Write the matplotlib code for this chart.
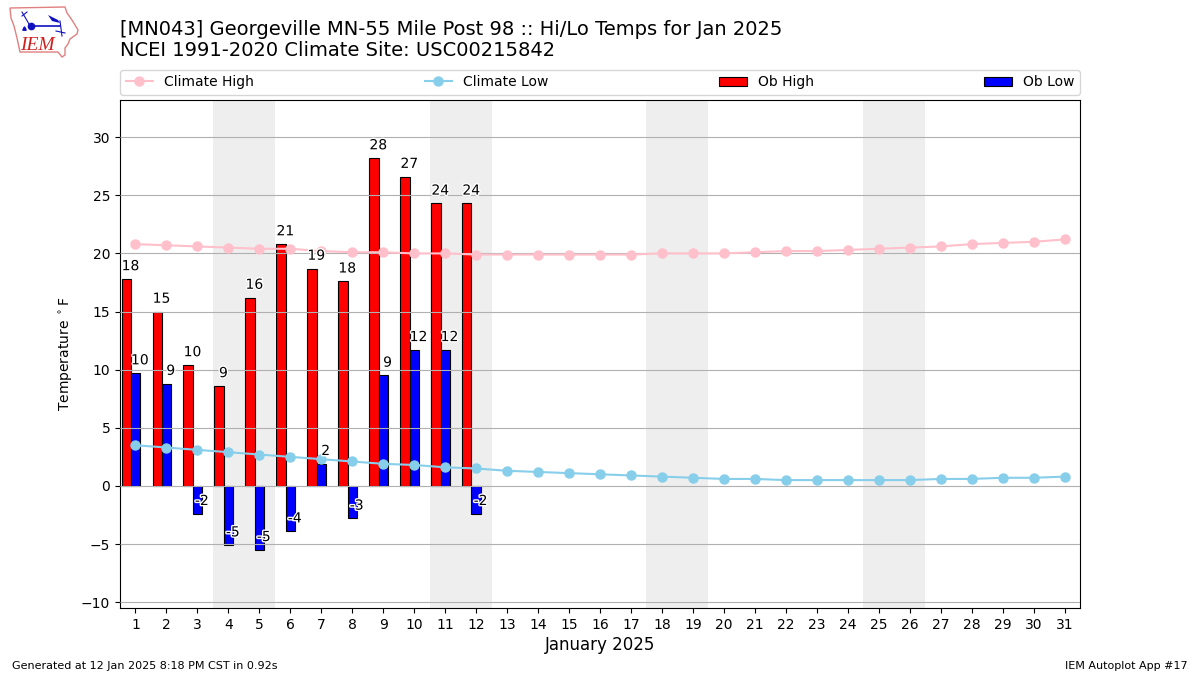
import numpy as np
import matplotlib
matplotlib.use('Agg')
import matplotlib.pyplot as plt
import matplotlib.patheffects as PathEffects
from matplotlib.patches import Polygon

days = list(range(1, 32))
obDays = list(range(1, 13))
obHigh = [17.8, 15.0, 10.4, 8.6, 16.2, 20.8, 18.7, 17.6, 28.2, 26.6, 24.3, 24.3]
obLow = [9.7, 8.8, -2.4, -5.1, -5.5, -3.9, 1.9, -2.8, 9.5, 11.7, 11.7, -2.4]
highLabels = [18, 15, 10, 9, 16, 21, 19, 18, 28, 27, 24, 24]
lowLabels = [10, 9, -2, -5, -5, -4, 2, -3, 9, 12, 12, -2]
climHigh = [20.8, 20.7, 20.6, 20.5, 20.4, 20.4, 20.2, 20.1, 20.1, 20.0, 20.0,
            19.9, 19.9, 19.9, 19.9, 19.9, 19.9, 20.0, 20.0, 20.0, 20.1, 20.2,
            20.2, 20.3, 20.4, 20.5, 20.6, 20.8, 20.9, 21.0, 21.2]
climLow = [3.5, 3.3, 3.1, 2.9, 2.7, 2.5, 2.3, 2.1, 1.9, 1.8, 1.6, 1.5, 1.3,
           1.2, 1.1, 1.0, 0.9, 0.8, 0.7, 0.6, 0.6, 0.5, 0.5, 0.5, 0.5, 0.5,
           0.6, 0.6, 0.7, 0.7, 0.8]
weekends = [(3.5, 5.5), (10.5, 12.5), (17.5, 19.5), (24.5, 26.5)]

fig = plt.figure(figsize=(12, 6.75), dpi=100)
ax = fig.add_axes([0.1, 0.0993, 0.8, 0.7526])

for start, end in weekends:
    ax.axvspan(start, end, color='#eeeeee', zorder=0, lw=0)

x = np.array(obDays)
ax.bar(x - 0.3, obHigh, width=0.3, color='red', edgecolor='k', lw=0.8,
       label='Ob High', zorder=1)
ax.bar(x, obLow, width=0.3, color='blue', edgecolor='k', lw=0.8,
       label='Ob Low', zorder=1)
ax.grid(axis='y', color='#b0b0b0', lw=0.8, zorder=2)
ax.set_axisbelow(False)

ax.plot(days, climHigh, color='pink', marker='o', ms=6.5, lw=1.5,
        label='Climate High', zorder=3)
ax.plot(days, climLow, color='skyblue', marker='o', ms=6.5, lw=1.5,
        label='Climate Low', zorder=3)

# Labels sit on top of everything with a white halo
halo = [PathEffects.withStroke(linewidth=2, foreground='white')]
for d, v, lbl in zip(obDays, obHigh, highLabels):
    ax.text(d - 0.16, v + 0.5, str(lbl), ha='center', va='bottom', fontsize=10,
            path_effects=halo, zorder=5)
for d, v, lbl in zip(obDays, obLow, lowLabels):
    ax.text(d + 0.14, v + 0.5, str(lbl), ha='center', va='bottom', fontsize=10,
            path_effects=halo, zorder=5)

ax.set_xlim(0.5, 31.5)
ax.set_ylim(-10.5, 33.2)
ax.set_xticks(days)
ax.set_yticks(range(-10, 31, 5))
ax.set_xlabel('January 2025', fontsize=12, labelpad=3)
ax.set_ylabel(r'Temperature $^\circ$F', fontsize=10)

handles, labels = ax.get_legend_handles_labels()
order = [labels.index(n) for n in ['Climate High', 'Climate Low', 'Ob High', 'Ob Low']]
ax.legend([handles[i] for i in order], [labels[i] for i in order], ncol=4,
          loc='lower left', mode='expand', bbox_to_anchor=(0, 1.01, 1, 0.049),
          borderaxespad=0, fontsize=10)

fig.text(0.1, 0.9117, '[MN043] Georgeville MN-55 Mile Post 98 :: Hi/Lo Temps for Jan 2025\n'
         'NCEI 1991-2020 Climate Site: USC00215842', fontsize=14, va='bottom',
         ha='left', linespacing=1.1)
fig.text(0.01, 0.0089, 'Generated at 12 Jan 2025 8:18 PM CST in 0.92s', fontsize=8)
fig.text(0.99, 0.0089, 'IEM Autoplot App #17', fontsize=8, ha='right')

# Rough IEM logo, drawn in pixel coordinates of the figure
logo = fig.add_axes([0, 0, 1, 1], facecolor='none')
logo.set_xlim(0, 1200)
logo.set_ylim(675, 0)
logo.axis('off')
logo.add_patch(Polygon([(10, 8), (65, 7), (67, 13), (72, 20), (78, 30), (77, 34),
                        (70, 39), (68, 44), (65, 48), (65, 55), (62, 57), (58, 52),
                        (20, 52), (17, 38), (14, 26), (11, 18)],
                       fc='none', ec='#e08080', lw=1.0))
logo.plot([31, 60], [26, 26], color='#1010c0', lw=1.2)
logo.plot([31], [26], 'o', color='#1010c0', ms=4.5)
logo.plot([22, 29], [12, 24], color='#1010c0', lw=0.8)
logo.plot([22, 27], [16, 12], color='#1010c0', lw=0.8)
logo.add_patch(Polygon([(48, 15), (58, 20), (60, 23), (52, 21)], fc='#1010c0', ec='none'))
logo.plot([60, 62], [21, 36], color='#1010c0', lw=0.8)
logo.plot([56, 65], [31, 33], color='#1010c0', lw=0.8)
logo.plot([24], [28], '^', color='#1010c0', ms=2.5)
logo.text(37.5, 45, 'IEM', color='#d02020', fontsize=14, family='Liberation Serif',
          style='italic', ha='center', va='center')

fig.savefig('out.png', dpi=100)
